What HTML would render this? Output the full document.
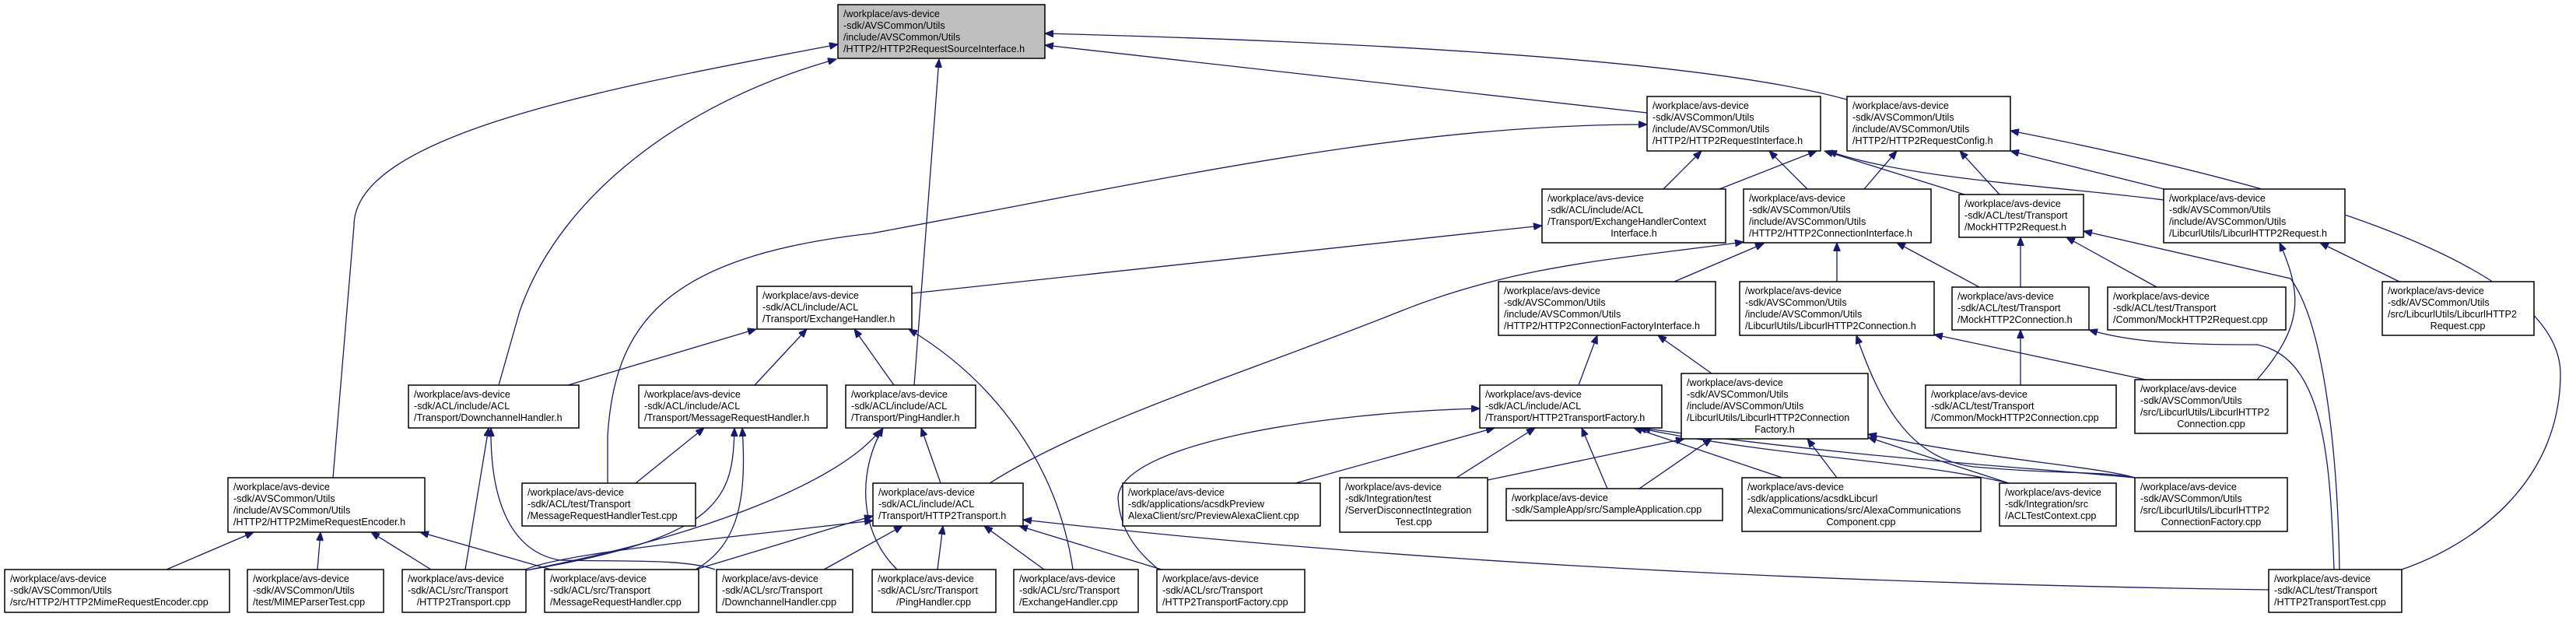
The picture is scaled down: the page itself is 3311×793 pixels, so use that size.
<!DOCTYPE html>
<html><head><meta charset="utf-8">
<style>
html,body{margin:0;padding:0;background:#fff;}
svg{display:block;}
text{font-family:"Liberation Sans",Arial,sans-serif;font-size:12.6px;fill:#000;}
.n{fill:#fff;stroke:#000;stroke-width:1.5;}
.r{fill:#bfbfbf;stroke:#000;stroke-width:1.5;}
.e{fill:none;stroke:#191970;stroke-width:1.3;marker-start:url(#a);}
</style></head><body>
<svg width="3311" height="793" viewBox="0 0 3311 793" xmlns="http://www.w3.org/2000/svg">
<defs>
<marker id="a" markerUnits="userSpaceOnUse" markerWidth="12" markerHeight="9" refX="11" refY="4.5" orient="auto-start-reverse">
<path d="M0,0 L11,4.5 L0,9 z" fill="#191970" stroke="#191970"/>
</marker>
</defs>
<rect width="3311" height="793" fill="#fff"/>

<!-- edges -->
<g>
<path class="e" d="M1077,57 C800,110 455,170 455,290 L428,614"/>
<path class="e" d="M1075,76 C880,130 720,250 668,400 L641,495"/>
<path class="e" d="M1207,76 L1175,495"/>
<path class="e" d="M1343,58 L2117,145"/>
<path class="e" d="M1343,43 C1800,55 2200,80 2374,128"/>
<path class="e" d="M2117,160 C1800,160 1500,230 1120,300 C850,330 790,420 781,560 L781,621"/>
<path class="e" d="M1982,290 L1172,377"/>
<path class="e" d="M2187,194 L2138,243"/>
<path class="e" d="M2241,311 C2080,333 1950,340 1800,400 C1600,480 1400,540 1272,621"/>
<path class="e" d="M2267,313 L2152,362"/>
<path class="e" d="M2335,194 L2210,243"/>
<path class="e" d="M2345,194 L2525,250"/>
<path class="e" d="M2350,194 C2450,230 2650,240 2781,257"/>
<path class="e" d="M2274,194 L2323,243"/>
<path class="e" d="M2438,194 L2396,243"/>
<path class="e" d="M2519,194 L2570,250"/>
<path class="e" d="M2584,194 L2781,243"/>
<path class="e" d="M2584,168 C2900,230 3290,330 3291,480 C3291,620 3180,700 3087,732"/>
<path class="e" d="M2361,312 L2361,362"/>
<path class="e" d="M2438,312 L2544,369"/>
<path class="e" d="M2597,305 L2597,369"/>
<path class="e" d="M2656,305 L2772,369"/>
<path class="e" d="M2678,297 L2944,358 C2990,420 3005,600 3007,732"/>
<path class="e" d="M2930,312 C2960,380 2960,420 2901,488"/>
<path class="e" d="M2982,312 L3084,362"/>
<path class="e" d="M2685,424 C2740,440 2800,443 2901,443 C2990,460 2995,600 3000,732"/>
<path class="e" d="M2597,424 L2597,495"/>
<path class="e" d="M2486,430 L2758,488"/>
<path class="e" d="M2386,431 C2420,530 2460,590 2537,600 C2650,610 2700,605 2744,614"/>
<path class="e" d="M2401,562 L2582,621"/>
<path class="e" d="M2401,558 C2550,590 2700,600 2744,614"/>
<path class="e" d="M2323,564 L2361,614"/>
<path class="e" d="M2200,564 L2107,628"/>
<path class="e" d="M2165,564 L1912,617"/>
<path class="e" d="M2131,431 L2200,480"/>
<path class="e" d="M2053,431 L2029,495"/>
<path class="e" d="M1902,525 C1700,530 1440,570 1437,640 C1440,690 1470,715 1489,732"/>
<path class="e" d="M1921,550 L1665,621"/>
<path class="e" d="M1973,550 L1872,614"/>
<path class="e" d="M2033,550 L2066,628"/>
<path class="e" d="M2100,550 L2291,614"/>
<path class="e" d="M2105,550 C2300,590 2450,590 2582,621"/>
<path class="e" d="M2110,550 C2400,590 2600,600 2744,614"/>
<path class="e" d="M1184,550 L1209,621"/>
<path class="e" d="M1315,668 Q2000,745 2916,758"/>
<path class="e" d="M1212,676 L1205,732"/>
<path class="e" d="M1265,676 L1342,732"/>
<path class="e" d="M1310,676 L1493,732"/>
<path class="e" d="M1160,676 L1059,732"/>
<path class="e" d="M1122,663 L894,732"/>
<path class="e" d="M1122,669 C950,690 720,710 673,733"/>
<path class="e" d="M1135,550 C1105,600 1100,680 1153,732"/>
<path class="e" d="M1132,552 C1080,620 900,690 676,733"/>
<path class="e" d="M1098,423 L1149,495"/>
<path class="e" d="M1168,423 C1280,490 1360,600 1379,732"/>
<path class="e" d="M972,423 L730,495"/>
<path class="e" d="M1037,423 L970,495"/>
<path class="e" d="M628,550 L598,732"/>
<path class="e" d="M631,550 C630,650 660,710 720,720 C800,722 880,718 919,732"/>
<path class="e" d="M905,550 L817,621"/>
<path class="e" d="M944,550 C942,640 930,690 676,733"/>
<path class="e" d="M954,550 C960,640 950,700 894,732"/>
<path class="e" d="M326,684 L214,732"/>
<path class="e" d="M412,684 L408,732"/>
<path class="e" d="M477,684 L554,732"/>
<path class="e" d="M540,684 L708,732"/>
</g>

<!-- nodes -->
<g>
<rect class="r" x="1077" y="6" width="266" height="69"/>
<text x="1084" y="22">/workplace/avs-device</text><text x="1084" y="37">-sdk/AVSCommon/Utils</text><text x="1084" y="52">/include/AVSCommon/Utils</text><text x="1084" y="67">/HTTP2/HTTP2RequestSourceInterface.h</text>

<rect class="n" x="2117" y="124" width="223" height="70"/>
<text x="2124" y="140">/workplace/avs-device</text><text x="2124" y="155">-sdk/AVSCommon/Utils</text><text x="2124" y="170">/include/AVSCommon/Utils</text><text x="2124" y="185">/HTTP2/HTTP2RequestInterface.h</text>

<rect class="n" x="2374" y="124" width="210" height="70"/>
<text x="2381" y="140">/workplace/avs-device</text><text x="2381" y="155">-sdk/AVSCommon/Utils</text><text x="2381" y="170">/include/AVSCommon/Utils</text><text x="2381" y="185">/HTTP2/HTTP2RequestConfig.h</text>

<rect class="n" x="1982" y="243" width="236" height="69"/>
<text x="1989" y="259">/workplace/avs-device</text><text x="1989" y="274">-sdk/ACL/include/ACL</text><text x="1989" y="289">/Transport/ExchangeHandlerContext</text><text x="2100" y="304" text-anchor="middle">Interface.h</text>

<rect class="n" x="2241" y="243" width="241" height="69"/>
<text x="2248" y="259">/workplace/avs-device</text><text x="2248" y="274">-sdk/AVSCommon/Utils</text><text x="2248" y="289">/include/AVSCommon/Utils</text><text x="2248" y="304">/HTTP2/HTTP2ConnectionInterface.h</text>

<rect class="n" x="2518" y="250" width="160" height="55"/>
<text x="2525" y="266">/workplace/avs-device</text><text x="2525" y="281">-sdk/ACL/test/Transport</text><text x="2525" y="296">/MockHTTP2Request.h</text>

<rect class="n" x="2781" y="243" width="233" height="69"/>
<text x="2788" y="259">/workplace/avs-device</text><text x="2788" y="274">-sdk/AVSCommon/Utils</text><text x="2788" y="289">/include/AVSCommon/Utils</text><text x="2788" y="304">/LibcurlUtils/LibcurlHTTP2Request.h</text>

<rect class="n" x="973" y="368" width="199" height="55"/>
<text x="980" y="384">/workplace/avs-device</text><text x="980" y="399">-sdk/ACL/include/ACL</text><text x="980" y="414">/Transport/ExchangeHandler.h</text>

<rect class="n" x="1926" y="362" width="279" height="69"/>
<text x="1933" y="378">/workplace/avs-device</text><text x="1933" y="393">-sdk/AVSCommon/Utils</text><text x="1933" y="408">/include/AVSCommon/Utils</text><text x="1933" y="423">/HTTP2/HTTP2ConnectionFactoryInterface.h</text>

<rect class="n" x="2236" y="362" width="250" height="69"/>
<text x="2243" y="378">/workplace/avs-device</text><text x="2243" y="393">-sdk/AVSCommon/Utils</text><text x="2243" y="408">/include/AVSCommon/Utils</text><text x="2243" y="423">/LibcurlUtils/LibcurlHTTP2Connection.h</text>

<rect class="n" x="2509" y="369" width="176" height="55"/>
<text x="2516" y="385">/workplace/avs-device</text><text x="2516" y="400">-sdk/ACL/test/Transport</text><text x="2516" y="415">/MockHTTP2Connection.h</text>

<rect class="n" x="2709" y="369" width="229" height="55"/>
<text x="2716" y="385">/workplace/avs-device</text><text x="2716" y="400">-sdk/ACL/test/Transport</text><text x="2716" y="415">/Common/MockHTTP2Request.cpp</text>

<rect class="n" x="3062" y="362" width="195" height="69"/>
<text x="3069" y="378">/workplace/avs-device</text><text x="3069" y="393">-sdk/AVSCommon/Utils</text><text x="3069" y="408">/src/LibcurlUtils/LibcurlHTTP2</text><text x="3159" y="423" text-anchor="middle">Request.cpp</text>

<rect class="n" x="525" y="495" width="219" height="55"/>
<text x="532" y="511">/workplace/avs-device</text><text x="532" y="526">-sdk/ACL/include/ACL</text><text x="532" y="541">/Transport/DownchannelHandler.h</text>

<rect class="n" x="821" y="495" width="242" height="55"/>
<text x="828" y="511">/workplace/avs-device</text><text x="828" y="526">-sdk/ACL/include/ACL</text><text x="828" y="541">/Transport/MessageRequestHandler.h</text>

<rect class="n" x="1087" y="495" width="167" height="55"/>
<text x="1094" y="511">/workplace/avs-device</text><text x="1094" y="526">-sdk/ACL/include/ACL</text><text x="1094" y="541">/Transport/PingHandler.h</text>

<rect class="n" x="1902" y="495" width="234" height="55"/>
<text x="1909" y="511">/workplace/avs-device</text><text x="1909" y="526">-sdk/ACL/include/ACL</text><text x="1909" y="541">/Transport/HTTP2TransportFactory.h</text>

<rect class="n" x="2161" y="480" width="240" height="84"/>
<text x="2168" y="496">/workplace/avs-device</text><text x="2168" y="511">-sdk/AVSCommon/Utils</text><text x="2168" y="526">/include/AVSCommon/Utils</text><text x="2168" y="541">/LibcurlUtils/LibcurlHTTP2Connection</text><text x="2281" y="556" text-anchor="middle">Factory.h</text>

<rect class="n" x="2475" y="495" width="245" height="55"/>
<text x="2482" y="511">/workplace/avs-device</text><text x="2482" y="526">-sdk/ACL/test/Transport</text><text x="2482" y="541">/Common/MockHTTP2Connection.cpp</text>

<rect class="n" x="2744" y="488" width="196" height="69"/>
<text x="2751" y="504">/workplace/avs-device</text><text x="2751" y="519">-sdk/AVSCommon/Utils</text><text x="2751" y="534">/src/LibcurlUtils/LibcurlHTTP2</text><text x="2842" y="549" text-anchor="middle">Connection.cpp</text>

<rect class="n" x="293" y="614" width="253" height="70"/>
<text x="300" y="630">/workplace/avs-device</text><text x="300" y="645">-sdk/AVSCommon/Utils</text><text x="300" y="660">/include/AVSCommon/Utils</text><text x="300" y="675">/HTTP2/HTTP2MimeRequestEncoder.h</text>

<rect class="n" x="671" y="621" width="223" height="55"/>
<text x="678" y="637">/workplace/avs-device</text><text x="678" y="652">-sdk/ACL/test/Transport</text><text x="678" y="667">/MessageRequestHandlerTest.cpp</text>

<rect class="n" x="1122" y="621" width="193" height="55"/>
<text x="1129" y="637">/workplace/avs-device</text><text x="1129" y="652">-sdk/ACL/include/ACL</text><text x="1129" y="667">/Transport/HTTP2Transport.h</text>

<rect class="n" x="1443" y="621" width="254" height="55"/>
<text x="1450" y="637">/workplace/avs-device</text><text x="1450" y="652">-sdk/applications/acsdkPreview</text><text x="1450" y="667">AlexaClient/src/PreviewAlexaClient.cpp</text>

<rect class="n" x="1722" y="614" width="190" height="70"/>
<text x="1729" y="630">/workplace/avs-device</text><text x="1729" y="645">-sdk/Integration/test</text><text x="1729" y="660">/ServerDisconnectIntegration</text><text x="1817" y="675" text-anchor="middle">Test.cpp</text>

<rect class="n" x="1936" y="628" width="278" height="41"/>
<text x="1943" y="644">/workplace/avs-device</text><text x="1943" y="659">-sdk/SampleApp/src/SampleApplication.cpp</text>

<rect class="n" x="2239" y="614" width="307" height="69"/>
<text x="2246" y="630">/workplace/avs-device</text><text x="2246" y="645">-sdk/applications/acsdkLibcurl</text><text x="2246" y="660">AlexaCommunications/src/AlexaCommunications</text><text x="2392" y="675" text-anchor="middle">Component.cpp</text>

<rect class="n" x="2570" y="621" width="150" height="55"/>
<text x="2577" y="637">/workplace/avs-device</text><text x="2577" y="652">-sdk/Integration/src</text><text x="2577" y="667">/ACLTestContext.cpp</text>

<rect class="n" x="2744" y="614" width="196" height="69"/>
<text x="2751" y="630">/workplace/avs-device</text><text x="2751" y="645">-sdk/AVSCommon/Utils</text><text x="2751" y="660">/src/LibcurlUtils/LibcurlHTTP2</text><text x="2842" y="675" text-anchor="middle">ConnectionFactory.cpp</text>

<rect class="n" x="6" y="732" width="289" height="55"/>
<text x="13" y="748">/workplace/avs-device</text><text x="13" y="763">-sdk/AVSCommon/Utils</text><text x="13" y="778">/src/HTTP2/HTTP2MimeRequestEncoder.cpp</text>

<rect class="n" x="318" y="732" width="175" height="55"/>
<text x="325" y="748">/workplace/avs-device</text><text x="325" y="763">-sdk/AVSCommon/Utils</text><text x="325" y="778">/test/MIMEParserTest.cpp</text>

<rect class="n" x="517" y="732" width="159" height="55"/>
<text x="524" y="748">/workplace/avs-device</text><text x="524" y="763">-sdk/ACL/src/Transport</text><text x="596" y="778" text-anchor="middle">/HTTP2Transport.cpp</text>

<rect class="n" x="700" y="732" width="198" height="55"/>
<text x="707" y="748">/workplace/avs-device</text><text x="707" y="763">-sdk/ACL/src/Transport</text><text x="707" y="778">/MessageRequestHandler.cpp</text>

<rect class="n" x="921" y="732" width="175" height="55"/>
<text x="928" y="748">/workplace/avs-device</text><text x="928" y="763">-sdk/ACL/src/Transport</text><text x="928" y="778">/DownchannelHandler.cpp</text>

<rect class="n" x="1121" y="732" width="159" height="55"/>
<text x="1128" y="748">/workplace/avs-device</text><text x="1128" y="763">-sdk/ACL/src/Transport</text><text x="1200" y="778" text-anchor="middle">/PingHandler.cpp</text>

<rect class="n" x="1303" y="732" width="160" height="55"/>
<text x="1310" y="748">/workplace/avs-device</text><text x="1310" y="763">-sdk/ACL/src/Transport</text><text x="1310" y="778">/ExchangeHandler.cpp</text>

<rect class="n" x="1487" y="732" width="190" height="55"/>
<text x="1494" y="748">/workplace/avs-device</text><text x="1494" y="763">-sdk/ACL/src/Transport</text><text x="1494" y="778">/HTTP2TransportFactory.cpp</text>

<rect class="n" x="2916" y="732" width="171" height="55"/>
<text x="2923" y="748">/workplace/avs-device</text><text x="2923" y="763">-sdk/ACL/test/Transport</text><text x="2923" y="778">/HTTP2TransportTest.cpp</text>
</g>
</svg>
</body></html>
